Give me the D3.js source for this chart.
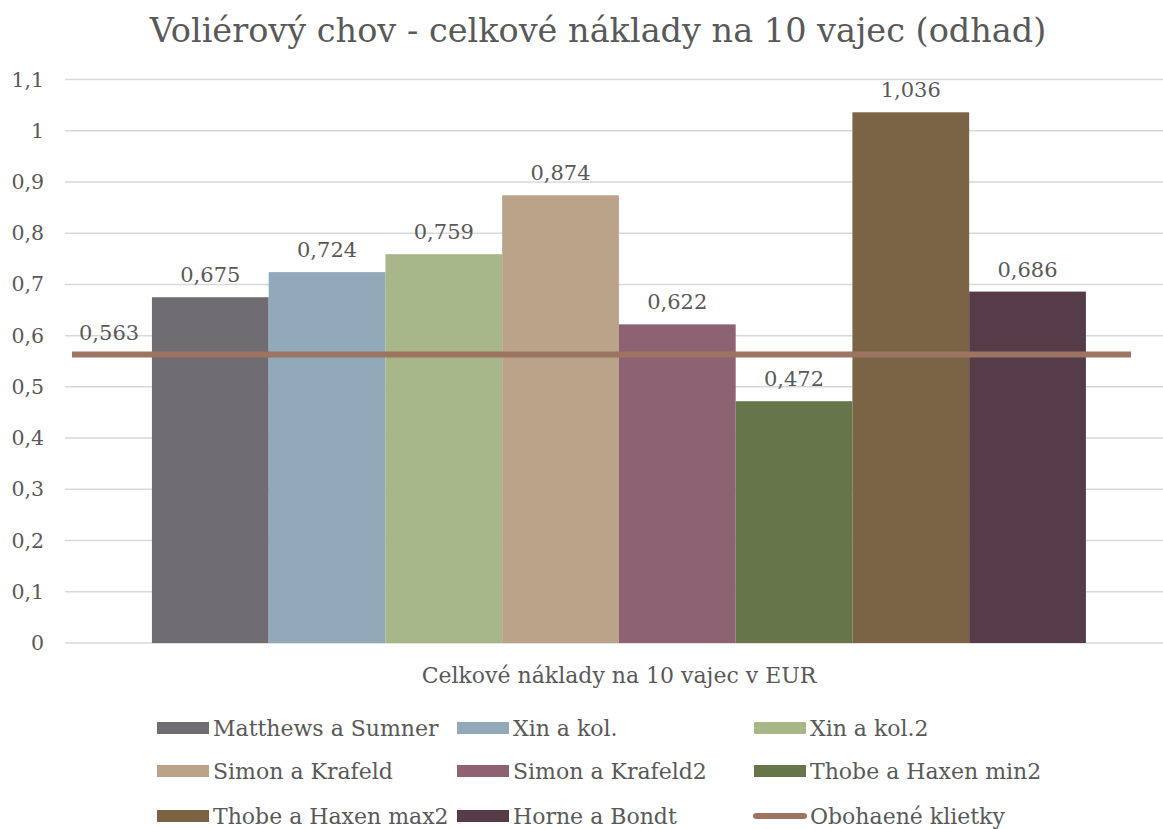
<!DOCTYPE html>
<html><head><meta charset="utf-8">
<script src="https://cdn.jsdelivr.net/npm/d3@7"></script>
<style>body{margin:0;background:#fff}svg{display:block}text{font-family:"DejaVu Serif",serif;fill:#595959}</style>
</head><body>
<svg id="c" width="1163" height="829"></svg>
<script>
const title = "Voliérový chov - celkové náklady na 10 vajec (odhad)";
const category = "Celkové náklady na 10 vajec v EUR";
const seriesNames = ["Matthews a Sumner","Xin a kol.","Xin a kol.2","Simon a Krafeld","Simon a Krafeld2","Thobe a Haxen min2","Thobe a Haxen max2","Horne a Bondt"];
const seriesValues = [0.675,0.724,0.759,0.874,0.622,0.472,1.036,0.686];
const seriesColors = ["#6f6d72","#91a9b9","#a7b78a","#baa388","#8d6272","#66764a","#7b6446","#563c48"];
const lineName = "Obohaené klietky";
const lineValues = [0.563,0.563];
const lineColor = "#9c7461";
const yTicks = [0,0.1,0.2,0.3,0.4,0.5,0.6,0.7,0.8,0.9,1,1.1];

const svg = d3.select("#c");
const fmt = v => String(v).replace(".", ",");
const L = 65, R = 1163, T = 79.5, B = 643;
const y = d3.scaleLinear().domain([0,1.1]).range([B,T]);
const x0 = d3.scaleBand().domain([category]).range([L,R]).paddingOuter(0.0878).align(0.53);
const x1 = d3.scaleBand().domain(seriesNames).range([x0(category), x0(category)+x0.bandwidth()]);
const xl = d3.scalePoint().domain([0,1]).range([72,1131]);

svg.append("text").attr("x",598).attr("y",42).attr("text-anchor","middle").style("font-size","33.5px").text(title);

// grid
svg.append("g").selectAll("line").data(yTicks).join("line")
  .attr("x1",L).attr("x2",R).attr("y1",d=>y(d)).attr("y2",d=>y(d))
  .attr("stroke","#d9d9d9").attr("stroke-width",1.5);

// y axis labels
const yAxis = d3.axisLeft(y).tickValues(yTicks).tickFormat(fmt).tickSize(0).tickPadding(0);
const ga = svg.append("g").attr("transform",`translate(${44},0)`).call(yAxis);
ga.select(".domain").remove();
ga.selectAll("text").style("font-size","20.5px").style("font-family","DejaVu Serif").attr("fill","#595959");

// bars
svg.append("g").selectAll("rect").data(seriesValues).join("rect")
  .attr("x",(d,i)=>x1(seriesNames[i])).attr("width",x1.bandwidth())
  .attr("y",d=>y(d)).attr("height",d=>B-y(d)).attr("fill",(d,i)=>seriesColors[i]);

svg.append("g").selectAll("text").data(seriesValues).join("text")
  .attr("x",(d,i)=>x1(seriesNames[i])+x1.bandwidth()/2).attr("y",d=>y(d)-15)
  .attr("text-anchor","middle").style("font-size","21px").text(fmt);

// line
svg.append("path").datum(lineValues)
  .attr("d",d3.line().x((d,i)=>xl(i)).y(d=>y(d)))
  .attr("stroke",lineColor).attr("stroke-width",6).attr("fill","none");
svg.append("text").attr("x",xl(0)+7).attr("y",y(lineValues[0])-15).style("font-size","21px").text(fmt(lineValues[0]));

// x axis title
svg.append("text").attr("x",619).attr("y",683).attr("text-anchor","middle").style("font-size","22px").text(category);

// legend
const legendItems = seriesNames.map((n,i)=>({name:n,color:seriesColors[i],type:"bar"})).concat([{name:lineName,color:lineColor,type:"line"}]);
const colX = [157,457,754], rowY = [728,771,816];
const lg = svg.append("g").selectAll("g").data(legendItems).join("g")
  .attr("transform",(d,i)=>`translate(${colX[i%3]},${rowY[Math.floor(i/3)]})`);
lg.filter(d=>d.type==="bar").append("rect").attr("x",0).attr("y",-6).attr("width",52).attr("height",12).attr("fill",d=>d.color);
lg.filter(d=>d.type==="line").append("line").attr("x1",2).attr("x2",50).attr("y1",0).attr("y2",0)
  .attr("stroke",d=>d.color).attr("stroke-width",6).attr("stroke-linecap","round");
lg.append("text").attr("x",56).attr("y",8).style("font-size","22px").text(d=>d.name);
</script>
</body></html>
